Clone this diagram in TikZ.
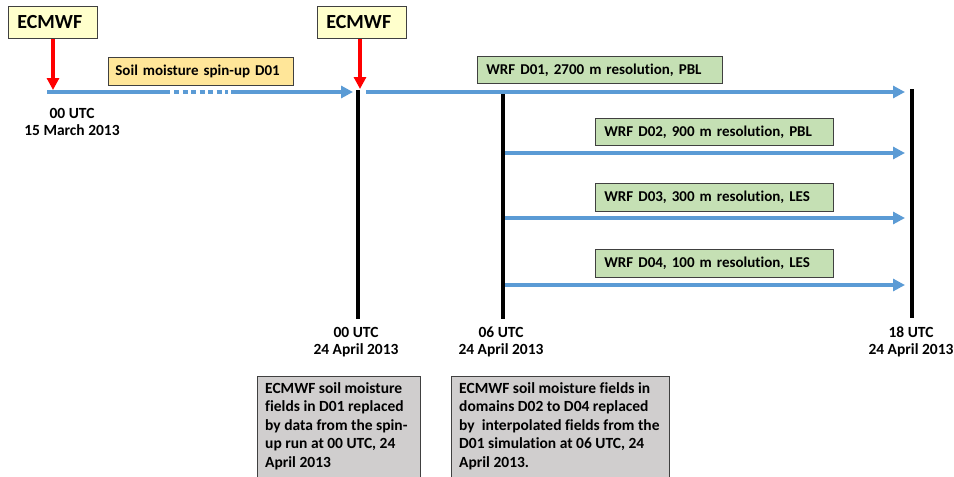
\documentclass[tikz,border=0pt]{standalone}
\usepackage{fontspec}
\setmainfont[Ligatures=NoCommon]{Carlito}
\usetikzlibrary{arrows.meta}
\definecolor{tlblue}{HTML}{5B9BD5}
\definecolor{tlred}{HTML}{FF0000}
\definecolor{ecyellow}{HTML}{FFFFCC}
\definecolor{spinorange}{HTML}{FFE699}
\definecolor{wrfgreen}{HTML}{C5E0B4}
\definecolor{notegrey}{HTML}{D0CECE}
\definecolor{edgegrey}{HTML}{404040}
\begin{document}
\begin{tikzpicture}[x=1pt,y=-1pt,
  smalltext/.style={font=\fontsize{15.5}{17.5}\selectfont\bfseries},
  boxtext/.style={font=\fontsize{15}{17.5}\selectfont\bfseries},
  boxbase/.style={draw=edgegrey, line width=0.8pt, anchor=north west, align=left, inner ysep=0pt},
  ecbox/.style={boxbase, fill=ecyellow, font=\fontsize{20}{24}\selectfont\bfseries, text width=71pt, inner xsep=9pt, minimum height=32pt},
  spinbox/.style={boxbase, fill=spinorange, boxtext, text width=171pt, inner xsep=7pt, minimum height=28pt},
  wrfbox/.style={boxbase, fill=wrfgreen, boxtext, inner xsep=9pt, minimum height=27pt},
  notebox/.style={draw=edgegrey, line width=0.8pt, fill=notegrey},
  notetext/.style={anchor=north west, align=left, inner sep=0pt, font=\fontsize{15.5}{18.5}\selectfont\bfseries},
  timelabel/.style={smalltext, align=center},
  blueline/.style={draw=tlblue, line width=4pt},
  bluearrow/.style={blueline, -{Triangle[length=12pt,width=12pt]}},
  redarrow/.style={draw=tlred, line width=3.5pt, -{Triangle[length=12pt,width=12pt]}},
  tick/.style={draw=black, line width=3.5pt}
]
\useasboundingbox (0,0) rectangle (954,477);

% top boxes
\node[ecbox] (ec1) at (8,6) {ECMWF};
\node[ecbox] (ec2) at (317,6) {ECMWF};
\node[spinbox] (spin) at (108,57) {Soil moisture spin-up D01};
\node[wrfbox, text width=227pt] (d01) at (477,56) {WRF D01, 2700 m resolution, PBL};
\node[wrfbox, text width=220pt] (d02) at (595,118) {WRF D02, 900 m resolution, PBL};
\node[wrfbox, text width=220pt, minimum height=28pt] (d03) at (595,183) {WRF D03, 300 m resolution, LES};
\node[wrfbox, text width=220pt, minimum height=28pt] (d04) at (595,249) {WRF D04, 100 m resolution, LES};

% timeline coordinates
\coordinate (a0) at (47,92);
\coordinate (a1) at (170,92);
\coordinate (a2) at (174,92);
\coordinate (a3) at (228,92);
\coordinate (a4) at (231,92);
\coordinate (a5) at (353,92);
\coordinate (b0) at (366,92);
\coordinate (b1) at (905,92);
\coordinate (c0) at (505,153);
\coordinate (c1) at (905,153);
\coordinate (e0) at (505,218);
\coordinate (e1) at (905,218);
\coordinate (f0) at (505,285);
\coordinate (f1) at (905,285);
\coordinate (r1) at (53,90);
\coordinate (r2) at (360,89);

% vertical ticks
\coordinate (t1a) at (358,90);
\coordinate (t1b) at (358,319);
\coordinate (t2a) at (503,92);
\coordinate (t2b) at (503,319);
\coordinate (t3a) at (912,89);
\coordinate (t3b) at (912,318);
\draw[tick] (t1a) -- (t1b);
\draw[tick] (t2a) -- (t2b);
\draw[tick] (t3a) -- (t3b);

% blue lines
\draw[blueline] (a0) -- (a1);
\draw[blueline, dash pattern=on 5pt off 3.5pt] (a2) -- (a3);
\draw[bluearrow] (a4) -- (a5);
\draw[bluearrow] (b0) -- (b1);
\draw[bluearrow] (c0) -- (c1);
\draw[bluearrow] (e0) -- (e1);
\draw[bluearrow] (f0) -- (f1);

% red arrows
\draw[redarrow] (ec1.south -| r1) -- (r1);
\draw[redarrow] (ec2.south -| r2) -- (r2);

% time labels
\node[timelabel] (l0) at (72,122) {00 UTC\\15 March 2013};
\node[timelabel] (l1) at (356,342) {00 UTC\\24 April 2013};
\node[timelabel] (l2) at (501,342) {06 UTC\\24 April 2013};
\node[timelabel] (l3) at (911,342) {18 UTC\\24 April 2013};

% notes
\draw[notebox] (257,376) rectangle (420,495);
\node[notetext] (n1) at (265,382) {ECMWF soil moisture\\fields in D01 replaced\\by data from the spin-\\up run at 00 UTC, 24\\April 2013};
\draw[notebox] (451,376) rectangle (669,495);
\node[notetext] (n2) at (459,382) {ECMWF soil moisture fields in\\domains D02 to D04 replaced\\by\ \ interpolated fields from the\\D01 simulation at 06 UTC, 24\\April 2013.};
\end{tikzpicture}
\end{document}
